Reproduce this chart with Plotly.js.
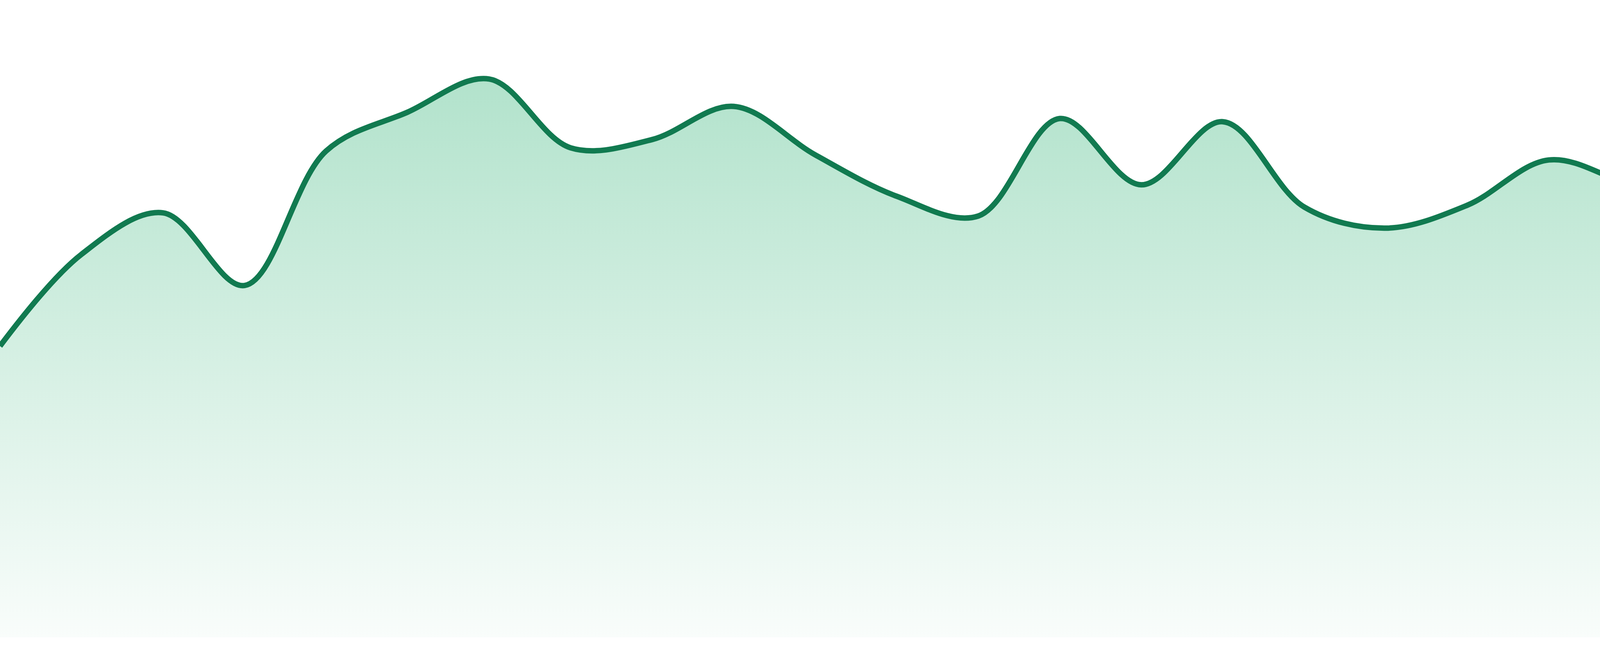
<!DOCTYPE html>
<html>
<head>
<meta charset="utf-8">
<script src="https://cdn.plot.ly/plotly-3.0.1.min.js"></script>
<style>
  html, body { margin: 0; padding: 0; background: #ffffff; }
  #chart { width: 4800px; height: 1680px; }
</style>
</head>
<body>
<div id="chart"></div>
<script>
// Data (24 evenly spaced samples)
const days = [1,2,3,4,5,6,7,8,9,10,11,12,13,14,15,16,17,18,19,20,21,22,23,24];
const values = [45.7, 60.1, 66.6, 55.2, 76.3, 82.4, 87.6, 76.8, 78.1, 83.3, 75.7, 69.2,
                66.1, 81.4, 71.0, 80.9, 67.5, 64.2, 67.8, 74.9, 71.0, 67.3, 74.5, 68.4];

const lineColor = '#117a50';

const trace = {
  x: days,
  y: values,
  type: 'scatter',
  mode: 'lines',
  line: { color: lineColor, width: 14, shape: 'spline', smoothing: 1 },
  fill: 'tozeroy',
  fillgradient: {
    type: 'vertical',
    colorscale: [[0, 'rgba(52,180,120,0.03)'], [1, 'rgba(52,180,120,0.38)']]
  },
  hoverinfo: 'skip'
};

const layout = {
  width: 4800,
  height: 1680,
  margin: { l: 0, r: 0, t: 0, b: 48, pad: 0 },
  paper_bgcolor: '#ffffff',
  plot_bgcolor: '#ffffff',
  showlegend: false,
  xaxis: { range: [days[0], days[days.length - 1]], visible: false, fixedrange: true },
  yaxis: { range: [0, 100], visible: false, fixedrange: true }
};

Plotly.newPlot('chart', [trace], layout, { staticPlot: true, displayModeBar: false });
</script>
</body>
</html>
